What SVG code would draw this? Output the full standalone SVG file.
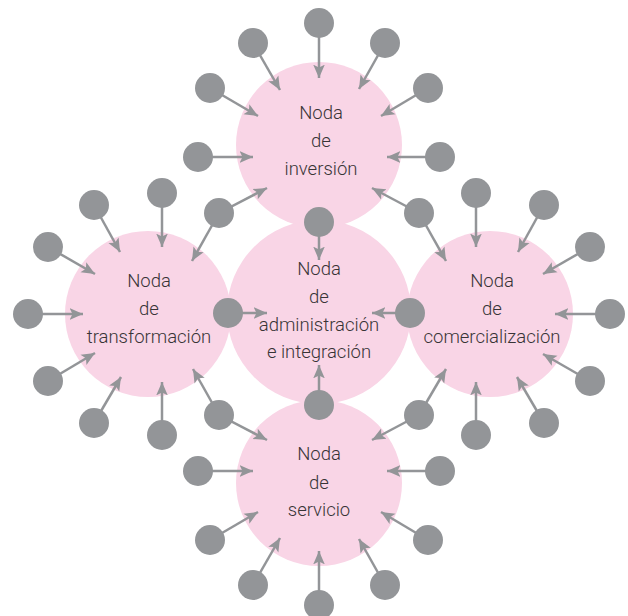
<svg xmlns="http://www.w3.org/2000/svg" width="628" height="616" viewBox="0 0 628 616">
<style>
.hub{fill:#f9d5e6}
.lbl{font-family:Roboto,"DejaVu Sans",sans-serif;font-weight:300;font-size:18.5px;fill:#383436;text-anchor:middle}
.dot{fill:#939598}
.c line{stroke:#939598;stroke-width:2.5;marker-end:url(#ah)}
</style>
<defs>
<marker id="ah" markerUnits="userSpaceOnUse" markerWidth="14" markerHeight="14" viewBox="0 0 12 11" refX="11.5" refY="5.5" orient="auto">
<path d="M0,0.5 L11.5,5.5 L0,10.5 L2.5,5.5 z" fill="#939598"/>
</marker>
</defs>
<rect width="628" height="616" fill="#fff"/>
<g id="noda-inversion"><circle class="hub" cx="319" cy="145" r="83"/><text class="lbl" x="321" y="119">Noda</text><text class="lbl" x="321" y="147">de</text><text class="lbl" x="321" y="175">inversión</text></g>
<g id="noda-transformacion"><circle class="hub" cx="148" cy="314" r="83"/><text class="lbl" x="149" y="287">Noda</text><text class="lbl" x="149" y="315">de</text><text class="lbl" x="149" y="343">transformación</text></g>
<g id="noda-comercializacion"><circle class="hub" cx="490" cy="314" r="83"/><text class="lbl" x="492" y="287">Noda</text><text class="lbl" x="492" y="315">de</text><text class="lbl" x="492" y="343">comercialización</text></g>
<g id="noda-servicio"><circle class="hub" cx="319" cy="483" r="83"/><text class="lbl" x="319" y="460">Noda</text><text class="lbl" x="319" y="489">de</text><text class="lbl" x="319" y="516">servicio</text></g>
<g id="noda-administracion"><circle class="hub" cx="319" cy="312" r="92"/><text class="lbl" x="319" y="275">Noda</text><text class="lbl" x="319" y="303">de</text><text class="lbl" x="319" y="331">administración</text><text class="lbl" x="319" y="358">e integración</text></g>
<g id="connectors" class="c">
<line x1="319" y1="23" x2="319" y2="78"/>
<line x1="253" y1="43" x2="280" y2="90"/>
<line x1="385" y1="43" x2="359" y2="89"/>
<line x1="210" y1="88" x2="258" y2="116"/>
<line x1="428" y1="88" x2="381" y2="116"/>
<line x1="198" y1="157" x2="253" y2="157"/>
<line x1="440" y1="157" x2="387" y2="157"/>
<line x1="219" y1="213" x2="267" y2="188"/>
<line x1="419" y1="213" x2="372" y2="188"/>
<line x1="319" y1="605" x2="319" y2="551"/>
<line x1="253" y1="585" x2="280" y2="538"/>
<line x1="385" y1="585" x2="359" y2="539"/>
<line x1="210" y1="540" x2="258" y2="512"/>
<line x1="428" y1="540" x2="381" y2="512"/>
<line x1="198" y1="471" x2="253" y2="471"/>
<line x1="440" y1="471" x2="387" y2="471"/>
<line x1="219" y1="415" x2="267" y2="440"/>
<line x1="419" y1="415" x2="372" y2="440"/>
<line x1="162" y1="193" x2="162" y2="247"/>
<line x1="94" y1="205" x2="120" y2="252"/>
<line x1="48" y1="247" x2="95" y2="274"/>
<line x1="28" y1="314" x2="83" y2="314"/>
<line x1="48" y1="381" x2="95" y2="353"/>
<line x1="94" y1="423" x2="121" y2="377"/>
<line x1="162" y1="435" x2="162" y2="382"/>
<line x1="219" y1="213" x2="192" y2="261"/>
<line x1="219" y1="415" x2="193" y2="369"/>
<line x1="476" y1="193" x2="476" y2="247"/>
<line x1="544" y1="205" x2="518" y2="252"/>
<line x1="590" y1="247" x2="543" y2="274"/>
<line x1="610" y1="314" x2="555" y2="314"/>
<line x1="590" y1="381" x2="543" y2="354"/>
<line x1="544" y1="423" x2="517" y2="377"/>
<line x1="476" y1="435" x2="476" y2="382"/>
<line x1="419" y1="213" x2="446" y2="261"/>
<line x1="419" y1="415" x2="446" y2="369"/>
<line x1="319" y1="222" x2="319" y2="260"/>
<line x1="228" y1="313" x2="267" y2="313"/>
<line x1="410" y1="313" x2="372" y2="313"/>
<line x1="319" y1="405" x2="319" y2="365"/>
</g>
<g id="dot-t1"><circle class="dot" cx="319" cy="23" r="15"/></g>
<g id="dot-t2"><circle class="dot" cx="253" cy="43" r="15"/></g>
<g id="dot-t3"><circle class="dot" cx="385" cy="43" r="15"/></g>
<g id="dot-t4"><circle class="dot" cx="210" cy="88" r="15"/></g>
<g id="dot-t5"><circle class="dot" cx="428" cy="88" r="15"/></g>
<g id="dot-t6"><circle class="dot" cx="198" cy="157" r="15"/></g>
<g id="dot-t7"><circle class="dot" cx="440" cy="157" r="15"/></g>
<g id="dot-tl"><circle class="dot" cx="219" cy="213" r="15"/></g>
<g id="dot-tr"><circle class="dot" cx="419" cy="213" r="15"/></g>
<g id="dot-b1"><circle class="dot" cx="319" cy="605" r="15"/></g>
<g id="dot-b2"><circle class="dot" cx="253" cy="585" r="15"/></g>
<g id="dot-b3"><circle class="dot" cx="385" cy="585" r="15"/></g>
<g id="dot-b4"><circle class="dot" cx="210" cy="540" r="15"/></g>
<g id="dot-b5"><circle class="dot" cx="428" cy="540" r="15"/></g>
<g id="dot-b6"><circle class="dot" cx="198" cy="471" r="15"/></g>
<g id="dot-b7"><circle class="dot" cx="440" cy="471" r="15"/></g>
<g id="dot-bl"><circle class="dot" cx="219" cy="415" r="15"/></g>
<g id="dot-br"><circle class="dot" cx="419" cy="415" r="15"/></g>
<g id="dot-l1"><circle class="dot" cx="162" cy="193" r="15"/></g>
<g id="dot-l2"><circle class="dot" cx="94" cy="205" r="15"/></g>
<g id="dot-l3"><circle class="dot" cx="48" cy="247" r="15"/></g>
<g id="dot-l4"><circle class="dot" cx="28" cy="314" r="15"/></g>
<g id="dot-l5"><circle class="dot" cx="48" cy="381" r="15"/></g>
<g id="dot-l6"><circle class="dot" cx="94" cy="423" r="15"/></g>
<g id="dot-l7"><circle class="dot" cx="162" cy="435" r="15"/></g>
<g id="dot-r1"><circle class="dot" cx="476" cy="193" r="15"/></g>
<g id="dot-r2"><circle class="dot" cx="544" cy="205" r="15"/></g>
<g id="dot-r3"><circle class="dot" cx="590" cy="247" r="15"/></g>
<g id="dot-r4"><circle class="dot" cx="610" cy="314" r="15"/></g>
<g id="dot-r5"><circle class="dot" cx="590" cy="381" r="15"/></g>
<g id="dot-r6"><circle class="dot" cx="544" cy="423" r="15"/></g>
<g id="dot-r7"><circle class="dot" cx="476" cy="435" r="15"/></g>
<g id="dot-ct"><circle class="dot" cx="319" cy="222" r="15"/></g>
<g id="dot-cl"><circle class="dot" cx="228" cy="313" r="15"/></g>
<g id="dot-cr"><circle class="dot" cx="410" cy="313" r="15"/></g>
<g id="dot-cb"><circle class="dot" cx="319" cy="405" r="15"/></g>
</svg>
